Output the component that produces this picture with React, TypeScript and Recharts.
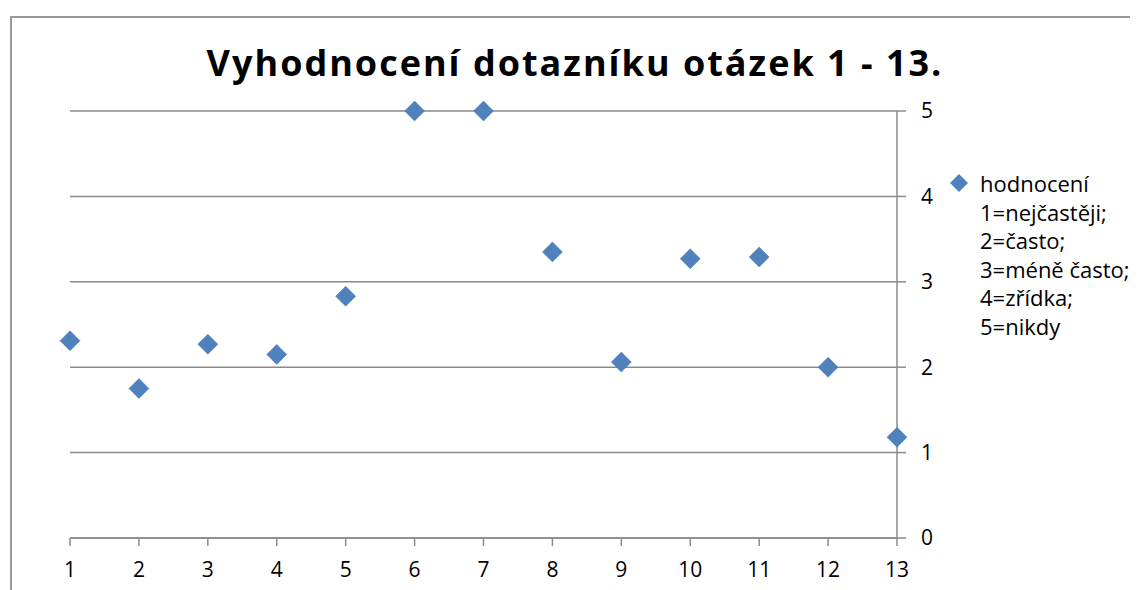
import React from 'react';
import { ScatterChart, Scatter, XAxis, YAxis, CartesianGrid } from 'recharts';

const TITLE = 'Vyhodnocení dotazníku otázek 1 - 13.';
const QUESTIONS = [1, 2, 3, 4, 5, 6, 7, 8, 9, 10, 11, 12, 13];
const RATINGS = [2.31, 1.75, 2.27, 2.15, 2.83, 5, 5, 3.35, 2.06, 3.27, 3.29, 2.0, 1.18];
const Y_TICKS = [0, 1, 2, 3, 4, 5];
const LEGEND_LINES = ['hodnocení', '1=nejčastěji;', '2=často;', '3=méně často;', '4=zřídka;', '5=nikdy'];

const BLUE = '#4F81BD';
const GRAY = '#8a8a8a';
const FONT = '"Open Sans", Lato, sans-serif';

const data = QUESTIONS.map((q, i) => ({ q, v: RATINGS[i] }));

const Diamond = (props: any) => {
  const { cx, cy } = props;
  const r = 10;
  return (
    <polygon
      points={`${cx},${cy - r} ${cx + r},${cy} ${cx},${cy + r} ${cx - r},${cy}`}
      fill={BLUE}
      stroke="#4a7ab3"
      strokeWidth={0.5}
    />
  );
};

const App: React.FC = () => {
  return (
    <div style={{ position: 'relative', width: 1130, height: 582, overflow: 'hidden', fontFamily: FONT }}>
      {/* chart frame, cut off on the right and bottom like the screenshot */}
      <div
        style={{
          position: 'absolute',
          left: 2,
          top: 8,
          width: 1200,
          height: 700,
          border: `2px solid #999`,
          boxSizing: 'border-box',
        }}
      />
      <div
        style={{
          position: 'absolute',
          left: 0,
          width: 1134,
          top: 30,
          textAlign: 'center',
          fontSize: 36,
          fontWeight: 700,
          letterSpacing: 2,
          color: '#000',
          lineHeight: '50px',
        }}
      >
        {TITLE}
      </div>

      <ScatterChart
        width={1130}
        height={582}
        margin={{ top: 103, right: 181, bottom: 12, left: 62 }}
        style={{ position: 'absolute', left: 0, top: 0 }}
      >
        <CartesianGrid vertical={false} stroke={GRAY} strokeWidth={1.5} />
        <XAxis
          type="number"
          dataKey="q"
          domain={[1, 13]}
          ticks={QUESTIONS}
          interval={0}
          height={40}
          tickSize={8}
          tickMargin={16}
          axisLine={{ stroke: GRAY, strokeWidth: 1.5 }}
          tickLine={{ stroke: GRAY, strokeWidth: 1.5 }}
          tick={{ fill: '#000', fontSize: 21, fontFamily: FONT }}
        />
        <YAxis
          type="number"
          dataKey="v"
          orientation="right"
          domain={[0, 5]}
          ticks={Y_TICKS}
          interval={0}
          width={60}
          tickSize={9}
          tickMargin={15}
          axisLine={{ stroke: GRAY, strokeWidth: 1.5 }}
          tickLine={{ stroke: GRAY, strokeWidth: 1.5 }}
          tick={{ fill: '#000', fontSize: 21, fontFamily: FONT }}
        />
        <Scatter name={LEGEND_LINES.join(' ')} data={data} shape={<Diamond />} isAnimationActive={false} />
      </ScatterChart>

      <div style={{ position: 'absolute', left: 940, top: 161, fontSize: 22, color: '#000', lineHeight: '28.6px', whiteSpace: 'nowrap' }}>
        {LEGEND_LINES.map((line, i) => (
          <div key={line} style={{ position: 'relative', paddingLeft: 32 }}>
            {i === 0 && (
              <svg width={20} height={20} style={{ position: 'absolute', left: 1, top: 4 }}>
                <polygon points="10,1 19,10 10,19 1,10" fill={BLUE} />
              </svg>
            )}
            {line}
          </div>
        ))}
      </div>
    </div>
  );
};

export default App;
